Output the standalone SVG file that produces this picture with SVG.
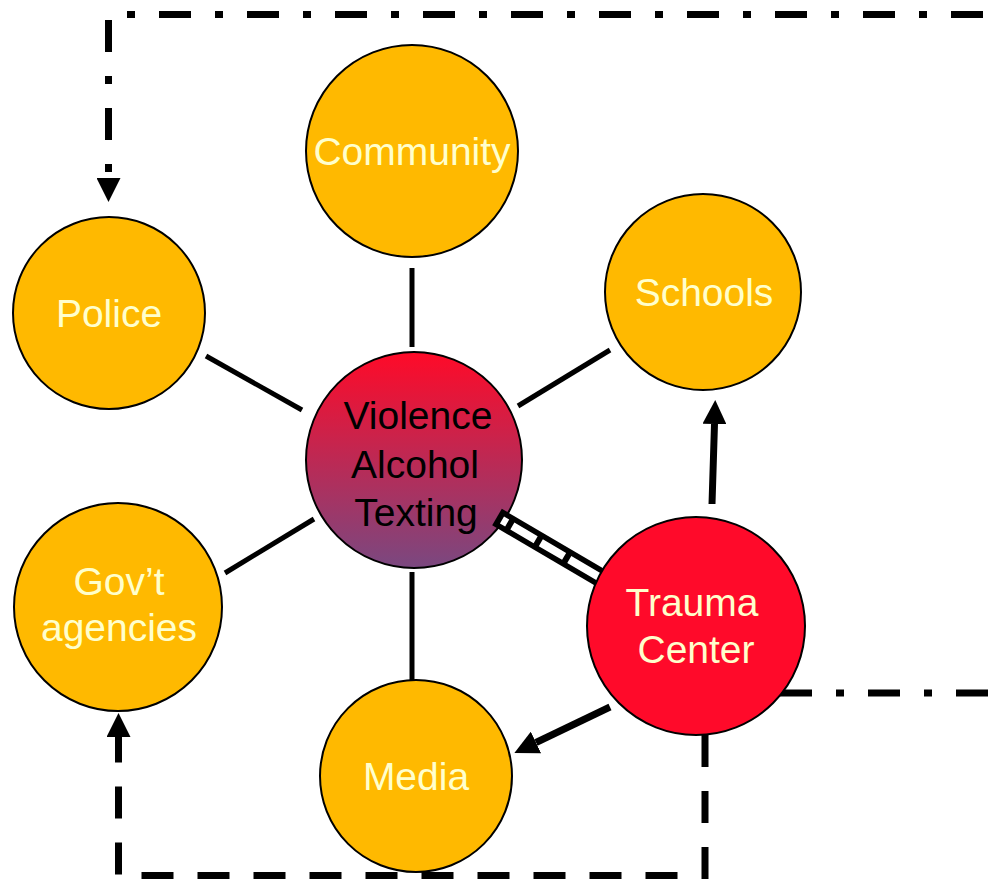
<svg xmlns="http://www.w3.org/2000/svg" width="991" height="882" viewBox="0 0 991 882">
<defs>
<linearGradient id="g" x1="0" y1="0" x2="0" y2="1">
<stop offset="0" stop-color="#FF0A28"/>
<stop offset="1" stop-color="#7A4880"/>
</linearGradient>
<marker id="ah" viewBox="0 0 24 24" markerWidth="24" markerHeight="24" markerUnits="userSpaceOnUse" refX="0" refY="12" orient="auto">
<path d="M0,0 L24,12 L0,24 z" fill="#000"/>
</marker>
</defs>
<style>
.sat{fill:#FFB900;stroke:#000;stroke-width:2}
.red{fill:#FF0A2A;stroke:#000;stroke-width:2}
.t{font-family:"Liberation Sans",Arial,sans-serif;font-size:39px;text-anchor:middle;fill:#FFFFCC}
.spoke{stroke:#000;stroke-width:5;fill:none}
.arr{stroke:#000;stroke-width:7;fill:none}
.dd{stroke:#000;stroke-width:7;fill:none;stroke-dasharray:32 24 8 24}
.dash{stroke:#000;stroke-width:7;fill:none;stroke-dasharray:32 24}
</style>
<g id="center"><circle cx="414" cy="460" r="108" fill="url(#g)" stroke="#000" stroke-width="2"/>
<text class="t" style="fill:#000" x="418" y="429">Violence</text><text class="t" style="fill:#000" x="415" y="478">Alcohol</text><text class="t" style="fill:#000" x="416" y="526">Texting</text></g>
<g id="connectors">
<line class="spoke" x1="412" y1="268" x2="412" y2="347"/>
<line class="spoke" x1="206" y1="356" x2="302" y2="410"/>
<line class="spoke" x1="518" y1="406" x2="610" y2="350"/>
<line class="spoke" x1="225" y1="573" x2="314" y2="519"/>
<line class="spoke" x1="412" y1="572" x2="412" y2="680"/>
<line x1="497" y1="517" x2="606" y2="581" stroke="#000" stroke-width="19"/>
<line x1="502" y1="520" x2="604" y2="579.8" stroke="#fff" stroke-width="8" stroke-dasharray="6 6 27 6 27 6 40"/>
<line class="arr" x1="712" y1="504" x2="714.5" y2="424" marker-end="url(#ah)"/>
<line class="arr" x1="610" y1="707" x2="536" y2="742.5" marker-end="url(#ah)"/>
<path class="dash" d="M705 735 V875.5 H118.5 V737" marker-end="url(#ah)"/>
<path class="dd" d="M780 693 H991"/>
<path class="dd" d="M991 14.5 H108.5 V178" stroke-dashoffset="80" marker-end="url(#ah)"/>
</g>
<g id="community"><circle class="sat" cx="412" cy="151" r="106"/><text class="t" x="412" y="165">Community</text></g>
<g id="police"><circle class="sat" cx="109" cy="313" r="96"/><text class="t" x="109" y="327">Police</text></g>
<g id="schools"><circle class="sat" cx="703" cy="292" r="98"/><text class="t" x="704" y="306">Schools</text></g>
<g id="govt"><circle class="sat" cx="118" cy="607" r="104"/><text class="t" x="119" y="595">Gov’t</text><text class="t" x="119" y="641">agencies</text></g>
<g id="media"><circle class="sat" cx="416" cy="776" r="96"/><text class="t" x="416" y="790">Media</text></g>
<g id="trauma"><circle class="red" cx="696" cy="626" r="109"/><text class="t" x="692" y="616">Trauma</text><text class="t" x="696" y="663">Center</text></g>
</svg>
